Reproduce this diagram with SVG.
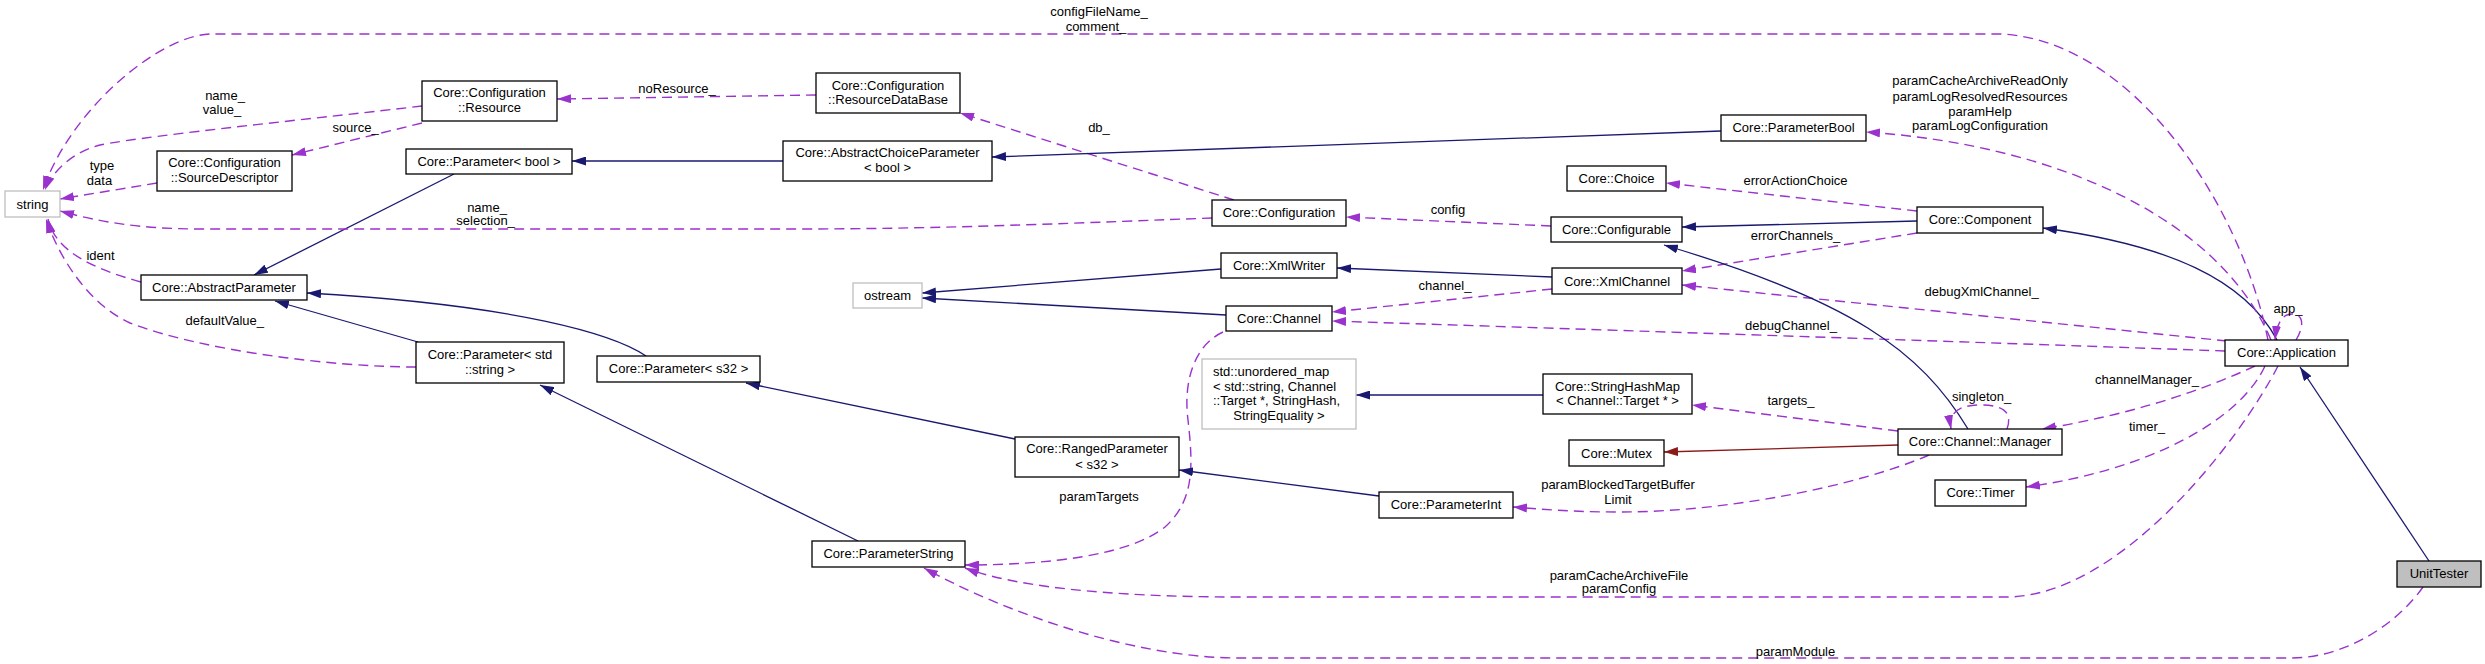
<svg xmlns="http://www.w3.org/2000/svg" width="2485" height="664" viewBox="0 0 2485 664">
<style>
text{font-family:"Liberation Sans",Arial,sans-serif;font-size:13px;text-anchor:middle;fill:#000}
.node rect{fill:#fff;stroke:#000;stroke-width:1.3}
.ext rect{fill:#fff;stroke:#bfbfbf;stroke-width:1.3}
.gray rect{fill:#bfbfbf;stroke:#000;stroke-width:1.3}
.inh{fill:none;stroke:#191970;stroke-width:1.3;marker-end:url(#aN)}
.red{fill:none;stroke:#8b1a1a;stroke-width:1.3;marker-end:url(#aR)}
.use{fill:none;stroke:#9a32cd;stroke-width:1.4;stroke-dasharray:10,6;marker-end:url(#aP)}
</style>
<defs>
<marker id="aN" viewBox="0 0 14 9" refX="14" refY="4.5" markerWidth="14" markerHeight="9" markerUnits="userSpaceOnUse" orient="auto"><path d="M0,0 L14,4.5 L0,9 z" fill="#191970"/></marker>
<marker id="aP" viewBox="0 0 14 9" refX="14" refY="4.5" markerWidth="14" markerHeight="9" markerUnits="userSpaceOnUse" orient="auto"><path d="M0,0 L14,4.5 L0,9 z" fill="#9a32cd"/></marker>
<marker id="aR" viewBox="0 0 14 9" refX="14" refY="4.5" markerWidth="14" markerHeight="9" markerUnits="userSpaceOnUse" orient="auto"><path d="M0,0 L14,4.5 L0,9 z" fill="#8b1a1a"/></marker>
</defs>
<rect width="2485" height="664" fill="#fff"/>
<g id="connectors">
<path class="use" d="M422,106 C330,117 150,135 100,145 C72,152 52,172 45,190"/>
<path class="use" d="M157,183 L60,199"/>
<path class="use" d="M422,123 L292,155"/>
<path class="use" d="M816,95 L557,99"/>
<path class="use" d="M1234,200 L960,113"/>
<path class="inh" d="M783,161 L572,161"/>
<path class="inh" d="M1721,131 L992,157"/>
<path class="inh" d="M454,174 L254,275"/>
<path class="use" d="M1212,218 C1100,222 950,229 800,229 L201,229 C140,229 100,222 60,211"/>
<path class="use" d="M1551,226 L1346,217"/>
<path class="use" d="M1917,211 L1666,183"/>
<path class="inh" d="M1917,221 L1682,227"/>
<path class="use" d="M1917,233 L1682,271"/>
<path class="inh" d="M1552,277 L1337,268"/>
<path class="inh" d="M1221,269 L922,293"/>
<path class="inh" d="M1226,315 L922,298"/>
<path class="use" d="M1552,289 L1332,312"/>
<path class="use" d="M2225,351 C2000,343 1700,333 1332,321"/>
<path class="use" d="M2227,341 L1682,285"/>
<path class="inh" d="M2277,340 C2245,280 2170,245 2043,228"/>
<path class="use" d="M2271,340 C2220,220 2060,145 1866,132"/>
<path class="use" d="M2268,340 C2240,200 2130,40 2001,34 L212,34 C160,34 70,110 43,190"/>
<path class="use" d="M2296,340 C2305,325 2303,314 2292,314 C2283,314 2277,322 2275,340"/>
<path class="use" d="M2255,366 Q2160,410 2042,429"/>
<path class="use" d="M2265,366 C2240,420 2150,470 2026,487"/>
<path class="inh" d="M2429,561 L2300,367"/>
<path class="use" d="M2278,366 C2240,440 2120,597 2006,597 L1239,597 C1100,597 1010,585 965,568"/>
<path class="use" d="M2423,587 C2400,620 2350,658 2290,658 L1239,658 C1130,658 1000,610 924,568"/>
<path class="use" d="M1223,332 C1195,345 1183,380 1188,420 C1193,465 1195,500 1165,527 C1130,555 1050,565 965,565"/>
<path class="use" d="M1898,431 L1692,405"/>
<path class="inh" d="M1543,395 L1356,395"/>
<path class="red" d="M1898,445 L1664,452"/>
<path class="inh" d="M1968,429 C1920,350 1850,300 1664,245"/>
<path class="use" d="M2007,429 C2013,412 2003,405 1980,405 C1960,405 1948,412 1951,429"/>
<path class="use" d="M1929,455 C1860,485 1730,512 1620,512 C1570,512 1540,509 1513,507"/>
<path class="inh" d="M1379,496 L1179,470"/>
<path class="inh" d="M1015,439 L746,383"/>
<path class="inh" d="M646,356 C615,335 520,305 307,293"/>
<path class="inh" d="M418,342 L275,301"/>
<path class="use" d="M416,367 C330,367 200,350 130,323 C90,305 60,260 46,219"/>
<path class="use" d="M141,282 C90,268 55,250 48,219"/>
<path class="inh" d="M858,541 L540,385"/>
</g>
<g id="labels">
<text x="225" y="99.5">name_</text><text x="222" y="113.5">value_</text>
<text x="102" y="169.5">type</text><text x="99.5" y="184.5">data</text>
<text x="355.5" y="131.5">source_</text>
<text x="677" y="92.5">noResource_</text>
<text x="1099" y="131.5">db_</text>
<text x="487" y="211.5">name_</text><text x="485.6" y="225">selection_</text>
<text x="1448" y="213.5">config</text>
<text x="1795.5" y="184.5">errorActionChoice</text>
<text x="1795.5" y="239.5">errorChannels_</text>
<text x="1445" y="289.5">channel_</text>
<text x="1791" y="329.5">debugChannel_</text>
<text x="1981.6" y="295.5">debugXmlChannel_</text>
<text x="1980" y="85">paramCacheArchiveReadOnly</text>
<text x="1980" y="100.5">paramLogResolvedResources</text>
<text x="1980" y="115.5">paramHelp</text>
<text x="1980" y="129.5">paramLogConfiguration</text>
<text x="1099" y="16">configFileName_</text><text x="1096" y="31">comment_</text>
<text x="2288" y="312.5">app_</text>
<text x="2147" y="383.5">channelManager_</text>
<text x="2147" y="431">timer_</text>
<text x="1619" y="579.5">paramCacheArchiveFile</text><text x="1619" y="593">paramConfig</text>
<text x="1795.5" y="655.5">paramModule</text>
<text x="1099" y="501">paramTargets</text>
<text x="1791" y="404.5">targets_</text>
<text x="1981.6" y="401">singleton_</text>
<text x="1618" y="488.8">paramBlockedTargetBuffer</text><text x="1618" y="504">Limit</text>
<text x="224.8" y="324.5">defaultValue_</text>
<text x="100.5" y="259.5">ident</text>
</g>
<g id="string" class="ext"><rect x="5" y="191" width="55" height="26"/><text x="32.5" y="208.5">string</text></g>
<g id="resource" class="node"><rect x="422" y="81" width="135" height="40"/><text x="489.5" y="97">Core::Configuration</text><text x="489.5" y="112">::Resource</text></g>
<g id="sourceDescriptor" class="node"><rect x="157" y="151" width="135" height="40"/><text x="224.5" y="167">Core::Configuration</text><text x="224.5" y="182">::SourceDescriptor</text></g>
<g id="resourceDataBase" class="node"><rect x="816" y="73" width="144" height="40"/><text x="888" y="89.5">Core::Configuration</text><text x="888" y="104">::ResourceDataBase</text></g>
<g id="abstractChoiceParameter" class="node"><rect x="783" y="141" width="209" height="40"/><text x="887.5" y="157">Core::AbstractChoiceParameter</text><text x="887.5" y="172">&lt; bool &gt;</text></g>
<g id="parameterBoolT" class="node"><rect x="406" y="149" width="166" height="25"/><text x="489" y="166">Core::Parameter&lt; bool &gt;</text></g>
<g id="abstractParameter" class="node"><rect x="141" y="275" width="166" height="25"/><text x="224" y="292">Core::AbstractParameter</text></g>
<g id="parameterStdString" class="node"><rect x="416" y="342" width="148" height="41"/><text x="490" y="358.5">Core::Parameter&lt; std</text><text x="490" y="373.5">::string &gt;</text></g>
<g id="parameterS32" class="node"><rect x="597" y="356" width="163" height="26"/><text x="678.5" y="373">Core::Parameter&lt; s32 &gt;</text></g>
<g id="parameterString" class="node"><rect x="812" y="541" width="153" height="26"/><text x="888.5" y="558">Core::ParameterString</text></g>
<g id="rangedParameter" class="node"><rect x="1015" y="437" width="164" height="40"/><text x="1097" y="453">Core::RangedParameter</text><text x="1097" y="468.5">&lt; s32 &gt;</text></g>
<g id="parameterInt" class="node"><rect x="1379" y="492" width="134" height="26"/><text x="1446" y="509">Core::ParameterInt</text></g>
<g id="unorderedMap" class="ext"><rect x="1202" y="359" width="154" height="70"/><text x="1213" y="376" style="text-anchor:start">std::unordered_map</text><text x="1213" y="391" style="text-anchor:start">&lt; std::string, Channel</text><text x="1213" y="405" style="text-anchor:start">::Target *, StringHash,</text><text x="1279" y="420">StringEquality &gt;</text></g>
<g id="configuration" class="node"><rect x="1212" y="200" width="134" height="26"/><text x="1279" y="217">Core::Configuration</text></g>
<g id="xmlWriter" class="node"><rect x="1221" y="253" width="116" height="25"/><text x="1279" y="270">Core::XmlWriter</text></g>
<g id="ostream" class="ext"><rect x="853" y="283" width="69" height="25"/><text x="887.5" y="300">ostream</text></g>
<g id="channel" class="node"><rect x="1226" y="306" width="106" height="25"/><text x="1279" y="323">Core::Channel</text></g>
<g id="choice" class="node"><rect x="1567" y="166" width="99" height="25"/><text x="1616.5" y="183">Core::Choice</text></g>
<g id="configurable" class="node"><rect x="1551" y="217" width="131" height="25"/><text x="1616.5" y="234">Core::Configurable</text></g>
<g id="xmlChannel" class="node"><rect x="1552" y="268" width="130" height="26"/><text x="1617" y="285.5">Core::XmlChannel</text></g>
<g id="stringHashMap" class="node"><rect x="1543" y="374" width="149" height="40"/><text x="1617.5" y="391">Core::StringHashMap</text><text x="1617.5" y="405">&lt; Channel::Target * &gt;</text></g>
<g id="mutex" class="node"><rect x="1569" y="440" width="95" height="26"/><text x="1616.5" y="457.5">Core::Mutex</text></g>
<g id="parameterBool" class="node"><rect x="1721" y="115" width="145" height="26"/><text x="1793.5" y="132">Core::ParameterBool</text></g>
<g id="component" class="node"><rect x="1917" y="207" width="126" height="26"/><text x="1980" y="224">Core::Component</text></g>
<g id="channelManager" class="node"><rect x="1898" y="429" width="164" height="26"/><text x="1980" y="446">Core::Channel::Manager</text></g>
<g id="timer" class="node"><rect x="1935" y="480" width="91" height="26"/><text x="1980.5" y="497">Core::Timer</text></g>
<g id="application" class="node"><rect x="2225" y="340" width="123" height="26"/><text x="2286.5" y="357">Core::Application</text></g>
<g id="unitTester" class="gray"><rect x="2397" y="561" width="84" height="26"/><text x="2439" y="578">UnitTester</text></g>
</svg>
